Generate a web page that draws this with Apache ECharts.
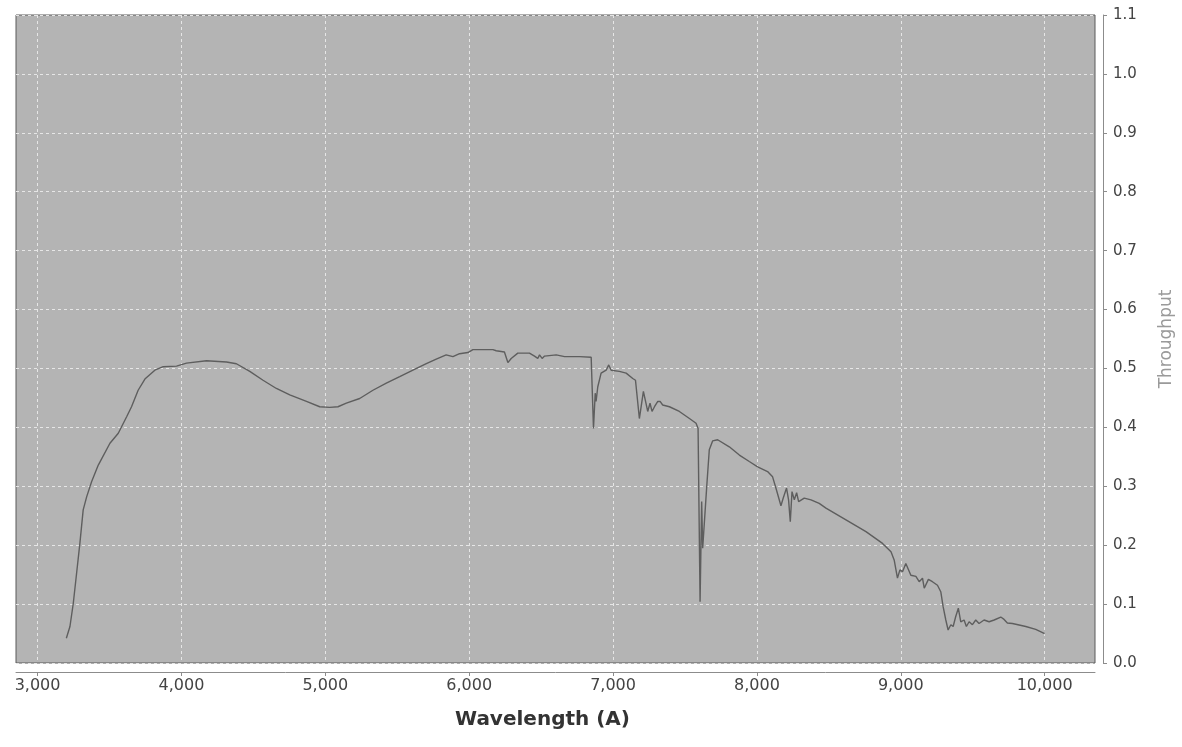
<!DOCTYPE html>
<html>
<head>
<meta charset="utf-8">
<script src="https://cdn.jsdelivr.net/npm/echarts@6/dist/echarts.min.js"></script>
<style>
html,body{margin:0;padding:0;background:#fff;}
#chart{width:1182px;height:747px;}
</style>
</head>
<body>
<div id="chart"></div>
<script>
// Wavelength (Å) and throughput values
const wavelength = [
3200,3225,3248,3271,3294,3317,3341,3376,3422,3503,3561,3619,3653,3699,3746,3815,3873,3966,4035,4174,
4313,4382,4475,4567,4660,4753,4869,4961,5031,5088,5146,5239,5331,5424,5517,5609,5702,5771,5840,5887,
5933,5991,6026,6165,6188,6245,6269,6292,6338,6419,6454,6477,6489,6507,6524,6605,6663,6767,6848,6864,
6876,6882,6894,6917,6952,6970,6987,7044,7091,7137,7156,7183,7211,7241,7257,7271,7288,7311,7327,7345,
7392,7461,7531,7577,7591,7605,7616,7623,7635,7651,7669,7692,7727,7808,7878,7947,8005,8074,8109,8132,
8167,8183,8206,8220,8232,8244,8260,8276,8290,8329,8376,8433,8480,8619,8758,8873,8932,8954,8977,8994,
9012,9035,9070,9105,9128,9151,9163,9192,9220,9255,9278,9294,9313,9329,9348,9364,9382,9400,9417,9440,
9456,9475,9498,9521,9544,9579,9614,9649,9695,9718,9741,9776,9869,9938,10000
];
const throughput = [
0.042,0.062,0.101,0.152,0.203,0.260,0.282,0.308,0.336,0.373,0.390,0.418,0.435,0.463,0.482,0.497,0.503,0.504,0.509,0.513,
0.511,0.508,0.495,0.480,0.466,0.455,0.444,0.435,0.434,0.435,0.441,0.449,0.463,0.475,0.486,0.497,0.508,0.516,0.523,0.520,
0.525,0.527,0.532,0.532,0.530,0.528,0.510,0.517,0.526,0.526,0.521,0.517,0.523,0.517,0.521,0.523,0.520,0.520,0.519,0.398,
0.458,0.444,0.469,0.492,0.497,0.506,0.497,0.495,0.492,0.483,0.480,0.415,0.461,0.427,0.441,0.427,0.435,0.444,0.444,0.438,
0.435,0.427,0.415,0.407,0.398,0.104,0.274,0.195,0.197,0.299,0.362,0.377,0.379,0.367,0.353,0.342,0.333,0.325,0.316,0.297,
0.267,0.280,0.297,0.277,0.240,0.291,0.277,0.289,0.274,0.280,0.277,0.271,0.263,0.243,0.223,0.203,0.189,0.175,0.144,0.158,
0.155,0.169,0.149,0.147,0.138,0.144,0.127,0.142,0.138,0.132,0.121,0.096,0.073,0.056,0.065,0.062,0.079,0.093,0.070,0.073,
0.062,0.070,0.065,0.073,0.067,0.073,0.070,0.073,0.078,0.074,0.068,0.067,0.062,0.057,0.050
];
const xTicks = [3000,4000,5000,6000,7000,8000,9000,10000];
const yTicks = [0.0,0.1,0.2,0.3,0.4,0.5,0.6,0.7,0.8,0.9,1.0,1.1];
const xTitle = 'Wavelength (A)';
const yTitle = 'Throughput';

const seriesData = wavelength.map((w, i) => [w, throughput[i]]);
const FONT = 'DejaVu Sans';

const chart = echarts.init(document.getElementById('chart'), null, {renderer: 'canvas'});
chart.setOption({
  animation: false,
  backgroundColor: '#ffffff',
  grid: {
    left: 16, right: 87, top: 15, bottom: 84,
    containLabel: false,
    outerBoundsMode: 'none',
    show: true,
    backgroundColor: '#b4b4b4',
    borderColor: '#5a5a5a',
    borderWidth: 1
  },
  xAxis: {
    type: 'value',
    min: 2850,
    max: 10350,
    offset: 9,
    name: xTitle,
    nameLocation: 'middle',
    nameGap: 38,
    nameTextStyle: {fontFamily: FONT, fontSize: 20, fontWeight: 'bold', color: '#333', padding: [0, 26, 0, 0]},
    axisLine: {show: true, onZero: false, lineStyle: {color: '#8c8c8c', width: 1}},
    axisTick: {show: true, length: 4, customValues: xTicks, lineStyle: {color: '#8c8c8c'}},
    axisLabel: {
      customValues: xTicks,
      fontFamily: FONT, fontSize: 16, color: '#444', margin: 6,
      formatter: v => v.toLocaleString('en-US')
    },
    splitLine: {show: true, lineStyle: {color: '#e6e6e6', type: [3, 3], width: 1}}
  },
  yAxis: {
    type: 'value',
    position: 'right',
    min: 0,
    max: 1.1,
    interval: 0.1,
    offset: 8,
    name: yTitle,
    nameLocation: 'middle',
    nameRotate: 90,
    nameGap: 55,
    nameTextStyle: {fontFamily: FONT, fontSize: 17, color: '#9a9a9a'},
    axisLine: {show: true, lineStyle: {color: '#8c8c8c', width: 1}},
    axisTick: {show: true, length: 4, lineStyle: {color: '#8c8c8c'}},
    axisLabel: {
      fontFamily: FONT, fontSize: 15, color: '#444', margin: 10,
      formatter: v => v.toFixed(1)
    },
    splitLine: {show: true, lineStyle: {color: '#e6e6e6', type: [3, 3], width: 1}}
  },
  series: [{
    type: 'line',
    data: seriesData,
    showSymbol: false,
    symbol: 'none',
    lineStyle: {color: '#5e5e5e', width: 1.4},
    silent: true
  }]
});
</script>
</body>
</html>
